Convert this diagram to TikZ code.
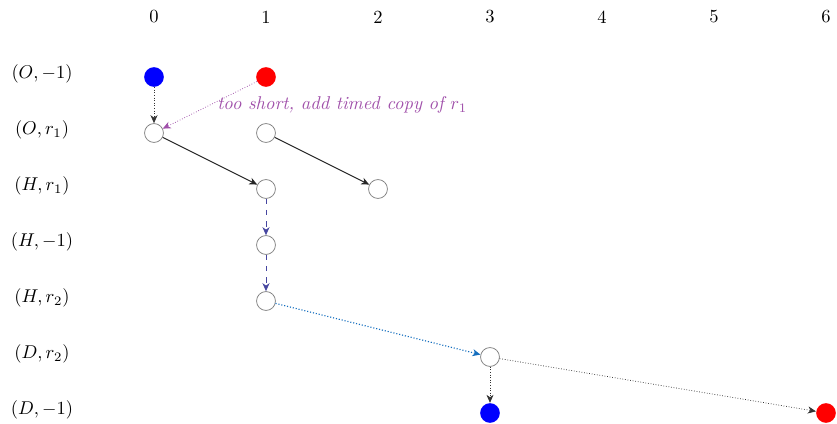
\documentclass[tikz,border=0pt]{standalone}
\usetikzlibrary{arrows.meta}
\definecolor{vio}{RGB}{160,80,170}
\definecolor{dnavy}{RGB}{70,70,160}
\definecolor{lblue}{RGB}{20,110,190}
\begin{document}
\begin{tikzpicture}[x=0.54pt,y=-0.54pt,
  st/.style={circle,draw=gray,thin,fill=white,minimum size=10.2pt,inner sep=0pt},
  bl/.style={circle,fill=blue,minimum size=10.6pt,inner sep=0pt},
  rd/.style={circle,fill=red,minimum size=10.6pt,inner sep=0pt},
  lab/.style={anchor=center},
  tip/.style={-{Stealth[length=4.3pt,width=3.8pt,inset=1.3pt]}},
  solidarr/.style={tip,semithick,black!85},
  dotarr/.style={tip,densely dotted,black!80},
  hdash/.style={tip,dashed,dnavy},
  bdot/.style={tip,densely dotted,semithick,lblue},
  vdot/.style={tip,densely dotted,vio}]
\useasboundingbox (0,0) rectangle (837,424);
% column numbers
\foreach \i in {0,...,6} \node[lab] (c\i) at (154+112*\i,17) {\i};
% row labels
\node[lab] (l0) at (42,74) {$(O,-1)$};
\node[lab] (l1) at (42,130) {$(O,r_1)$};
\node[lab] (l2) at (42,186) {$(H,r_1)$};
\node[lab] (l3) at (42,242) {$(H,-1)$};
\node[lab] (l4) at (42,298) {$(H,r_2)$};
\node[lab] (l5) at (42,354) {$(D,r_2)$};
\node[lab] (l6) at (42,410) {$(D,-1)$};
% nodes
\node[bl] (b0) at (154,77) {};
\node[rd] (r1) at (266,77) {};
\node[st] (o0) at (154,133) {};
\node[st] (o1) at (266,133) {};
\node[st] (h1) at (266,189) {};
\node[st] (h2) at (378,189) {};
\node[st] (hm) at (266,245) {};
\node[st] (hr) at (266,301) {};
\node[st] (d3) at (490,357) {};
\node[bl] (b3) at (490,413) {};
\node[rd] (r6) at (826,413) {};
% edges
\draw[dotarr] (b0) -- (o0);
\draw[vdot] (r1) -- node[right,pos=0.47,text=vio,font=\itshape,yshift=-0.5pt,xshift=-1pt] {too short, add timed copy of $r_1$} (o0);
\draw[solidarr] (o0) -- (h1);
\draw[solidarr] (o1) -- (h2);
\draw[hdash] (h1) -- (hm);
\draw[hdash] (hm) -- (hr);
\draw[bdot] (hr) -- (d3);
\draw[dotarr] (d3) -- (b3);
\draw[dotarr] (d3) -- (r6);
\end{tikzpicture}
\end{document}
